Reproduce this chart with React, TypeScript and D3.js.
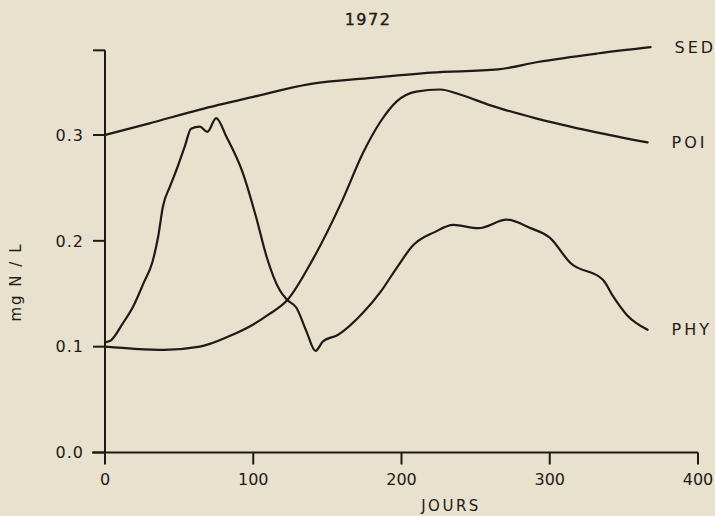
import * as d3 from "d3";

// 1972 nitrogen pools (mg N/L) vs day of year

const W = 715;
const H = 516;
const BG = "#e8e1cd";
const INK = "#1f1a17";
const FONT = "'DejaVu Sans', sans-serif";

const xTicks = [0, 100, 200, 300, 400];
const yTicks = [0, 0.1, 0.2, 0.3];
const yTickLabels = ["0.0", "0.1", "0.2", "0.3"];

const sedDays = [0, 30, 64, 100, 138, 180, 220, 265, 292, 332, 368];
const sedVals = [0.3, 0.311, 0.324, 0.336, 0.348, 0.354, 0.359, 0.362, 0.369, 0.377, 0.383];

const poiDays = [0, 20, 40, 64, 84, 100, 110, 123, 140, 160, 174, 186, 197, 210, 226, 240, 260, 290, 330, 366];
const poiVals = [0.1, 0.098, 0.097, 0.1, 0.11, 0.121, 0.13, 0.144, 0.182, 0.238, 0.283, 0.313, 0.332, 0.341, 0.343, 0.338, 0.328, 0.316, 0.303, 0.293];

const phyDays = [0, 4, 12, 19, 26, 32, 36, 39, 44, 49, 54, 58, 64, 69, 75, 82, 93, 102, 109, 118, 123, 129, 136, 142, 147, 157, 174, 186, 197, 208, 222, 235, 252, 271, 287, 300, 314, 336, 343, 352, 366];
const phyVals = [0.104, 0.106, 0.122, 0.138, 0.16, 0.18, 0.205, 0.232, 0.252, 0.27, 0.29, 0.306, 0.308, 0.303, 0.316, 0.298, 0.264, 0.222, 0.185, 0.153, 0.144, 0.137, 0.114, 0.096, 0.105, 0.111, 0.132, 0.152, 0.175, 0.196, 0.208, 0.215, 0.212, 0.22, 0.212, 0.203, 0.179, 0.163, 0.147, 0.13, 0.116];

const seriesNames = ["SED", "POI", "PHY"];
const seriesDays = [sedDays, poiDays, phyDays];
const seriesVals = [sedVals, poiVals, phyVals];

const Y_TOP = 0.38;

export default function App() {
  const x = d3.scaleLinear().domain([0, 400]).range([105, 698]);
  const y = d3.scaleLinear().domain([0, 0.3]).range([452.5, 135]);

  const line = d3
    .line<[number, number]>()
    .x((d) => x(d[0]))
    .y((d) => y(d[1]))
    .curve(d3.curveMonotoneX);

  const x0 = x(0);
  const y0 = y(0);

  return (
    <svg
      width={W}
      height={H}
      style={{ position: "absolute", left: 0, top: 0, display: "block" }}
    >
      <rect width={W} height={H} fill={BG} />

      {/* title */}
      <text x={368} y={25} textAnchor="middle" fontSize={16}
        fontFamily={FONT} fill={INK} letterSpacing={1.5} stroke={INK} strokeWidth={0.4}>
        1972
      </text>

      {/* y axis */}
      <line x1={x0} x2={x0} y1={y(Y_TOP)} y2={y0 + 11} stroke={INK} strokeWidth={2} />
      <line x1={x0 - 12} x2={x0} y1={y(Y_TOP)} y2={y(Y_TOP)} stroke={INK} strokeWidth={2} />
      {yTicks.map((t, i) => (
        <g key={t}>
          <line x1={x0 - 12} x2={x0} y1={y(t)} y2={y(t)} stroke={INK} strokeWidth={2} />
          <text x={84} y={y(t)} dy="0.36em" textAnchor="end" fontSize={16}
            fontFamily={FONT} fill={INK} letterSpacing={1}>
            {yTickLabels[i]}
          </text>
        </g>
      ))}
      <text
        transform={`translate(21,${282}) rotate(-90)`}
        textAnchor="middle"
        fontSize={15}
        fontFamily={FONT}
        fill={INK}
        letterSpacing={2}
      >
        mg  N / L
      </text>

      {/* x axis */}
      <line x1={x0 - 13} x2={x(400)} y1={y0} y2={y0} stroke={INK} strokeWidth={2} />
      {xTicks.map((t) => (
        <g key={t}>
          <line x1={x(t)} x2={x(t)} y1={y0} y2={y0 + 12} stroke={INK} strokeWidth={2} />
          <text x={x(t)} y={485} textAnchor="middle" fontSize={16}
            fontFamily={FONT} fill={INK}>
            {t}
          </text>
        </g>
      ))}
      <text x={451} y={511} textAnchor="middle" fontSize={15}
        fontFamily={FONT} fill={INK} letterSpacing={2.5}>
        JOURS
      </text>

      {/* curves */}
      {seriesNames.map((name, i) => {
        const pts = seriesDays[i].map((d, j) => [d, seriesVals[i][j]] as [number, number]);
        const last = pts[pts.length - 1];
        return (
          <g key={name}>
            <path d={line(pts) ?? ""} fill="none" stroke={INK} strokeWidth={2.2}
              strokeLinejoin="round" strokeLinecap="round" />
            <text x={x(last[0]) + 24} y={y(last[1])} dy="0.36em" fontSize={16}
              fontFamily={FONT} fill={INK} letterSpacing={3}>
              {name}
            </text>
          </g>
        );
      })}
    </svg>
  );
}
